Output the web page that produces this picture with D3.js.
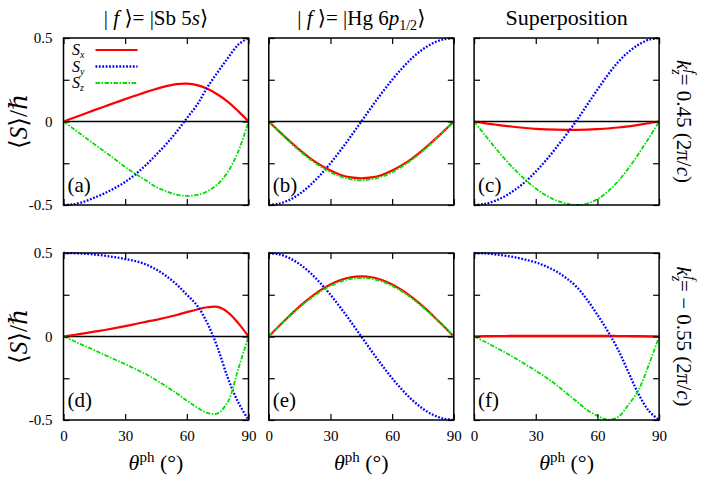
<!DOCTYPE html>
<html>
<head>
<meta charset="utf-8">
<script src="https://cdn.jsdelivr.net/npm/d3@7"></script>
<style>
  body { margin: 0; background: #fff; }
</style>
</head>
<body>
<div id="chart"></div>
<script>
const theta = [0, 5, 10, 15, 20, 25, 30, 35, 40, 45, 50, 55, 60, 65, 70, 75, 80, 85, 90];

// top row, k_z = 0.45
const sxA = [0, 0.022, 0.045, 0.068, 0.09, 0.112, 0.134, 0.155, 0.176, 0.195, 0.212, 0.224, 0.227, 0.218, 0.196, 0.162, 0.118, 0.062, 0];
const syA = [-0.5, -0.495, -0.48, -0.456, -0.43, -0.398, -0.362, -0.316, -0.262, -0.2, -0.135, -0.062, 0.02, 0.1, 0.205, 0.295, 0.38, 0.46, 0.5];
const szA = [0, -0.045, -0.09, -0.136, -0.18, -0.226, -0.272, -0.314, -0.352, -0.392, -0.418, -0.438, -0.445, -0.44, -0.418, -0.375, -0.3, -0.18, 0];

const sxB = [0, -0.059, -0.116, -0.17, -0.219, -0.26, -0.294, -0.32, -0.335, -0.34, -0.335, -0.32, -0.294, -0.26, -0.219, -0.17, -0.116, -0.059, 0];
const syB = [-0.5, -0.492, -0.47, -0.433, -0.383, -0.321, -0.25, -0.171, -0.087, 0, 0.087, 0.171, 0.25, 0.321, 0.383, 0.433, 0.47, 0.492, 0.5];
const szB = [0, -0.061, -0.12, -0.176, -0.226, -0.268, -0.304, -0.33, -0.346, -0.352, -0.346, -0.33, -0.304, -0.268, -0.226, -0.176, -0.12, -0.061, 0];

const sxC = [0, -0.01, -0.018, -0.026, -0.033, -0.039, -0.044, -0.047, -0.049, -0.05, -0.05, -0.049, -0.046, -0.042, -0.036, -0.029, -0.02, -0.01, 0];
const syC = [-0.5, -0.494, -0.476, -0.447, -0.408, -0.36, -0.3, -0.232, -0.156, -0.076, 0.008, 0.1, 0.19, 0.278, 0.355, 0.415, 0.46, 0.49, 0.5];
const szC = [0, -0.077, -0.153, -0.225, -0.291, -0.35, -0.401, -0.443, -0.473, -0.492, -0.5, -0.492, -0.465, -0.42, -0.358, -0.282, -0.194, -0.099, 0];

// bottom row, k_z = -0.55
const sxD = [0, 0.009, 0.019, 0.029, 0.039, 0.05, 0.062, 0.075, 0.088, 0.1, 0.114, 0.129, 0.146, 0.162, 0.175, 0.177, 0.145, 0.08, 0];
const syD = [0.5, 0.499, 0.496, 0.491, 0.484, 0.475, 0.464, 0.452, 0.432, 0.402, 0.362, 0.312, 0.25, 0.186, 0.079, -0.068, -0.25, -0.394, -0.5];
const szD = [0, -0.027, -0.055, -0.082, -0.11, -0.138, -0.166, -0.195, -0.225, -0.26, -0.3, -0.34, -0.384, -0.425, -0.458, -0.46, -0.39, -0.195, 0];

const sxE = [0, 0.063, 0.123, 0.18, 0.231, 0.276, 0.312, 0.338, 0.355, 0.36, 0.355, 0.338, 0.312, 0.276, 0.231, 0.18, 0.123, 0.063, 0];
const syE = [0.5, 0.492, 0.47, 0.433, 0.383, 0.321, 0.25, 0.171, 0.087, 0, -0.087, -0.171, -0.25, -0.321, -0.383, -0.433, -0.47, -0.492, -0.5];
const szE = [0, 0.061, 0.12, 0.175, 0.225, 0.268, 0.303, 0.329, 0.345, 0.35, 0.345, 0.329, 0.303, 0.268, 0.225, 0.175, 0.12, 0.061, 0];

const sxF = [0, 0.002, 0.003, 0.003, 0.004, 0.004, 0.004, 0.004, 0.004, 0.004, 0.004, 0.004, 0.004, 0.004, 0.003, 0.003, 0.002, 0.001, 0];
const syF = [0.5, 0.498, 0.492, 0.484, 0.474, 0.46, 0.444, 0.42, 0.39, 0.348, 0.296, 0.22, 0.13, 0.032, -0.078, -0.212, -0.345, -0.445, -0.5];
const szF = [0, -0.03, -0.062, -0.095, -0.13, -0.167, -0.205, -0.245, -0.29, -0.34, -0.39, -0.44, -0.475, -0.498, -0.482, -0.41, -0.32, -0.17, 0];

const panelLabels = ["(a)", "(b)", "(c)", "(d)", "(e)", "(f)"];
const seriesNames = ["x", "y", "z"];
const xTicks = [0, 30, 60, 90];
const yTicks = [-0.5, -0.25, 0, 0.25, 0.5];
const yLabelled = [-0.5, 0, 0.5];

const panels = [
  [sxA, syA, szA], [sxB, syB, szB], [sxC, syC, szC],
  [sxD, syD, szD], [sxE, syE, szE], [sxF, syF, szF]
];

const width = 706, height = 482;
const pw = 185, ph = 167;
const colX = c => 63.5 + c * 205.3;
const rowY = r => 38 + r * 215;
const FONT = "'Liberation Serif', 'DejaVu Serif', serif";

const styles = [
  { color: "#ff0000", w: 2.2, dash: null },
  { color: "#0000ff", w: 2.3, dash: "1.8 1.6" },
  { color: "#00e000", w: 1.8, dash: "4.5 1.5 1.5 1.5" }
];

const svg = d3.select("#chart").append("svg")
  .attr("width", width)
  .attr("height", height);

const x = d3.scaleLinear().domain([0, 90]).range([0, pw]);
const y = d3.scaleLinear().domain([-0.5, 0.5]).range([ph, 0]);

const line = d3.line()
  .x((d, i) => x(theta[i]))
  .y(d => y(d))
  .curve(d3.curveCatmullRom.alpha(0.5));

function rich(sel, parts) {
  sel.style("font-family", FONT).attr("fill", "#000");
  parts.forEach(p => {
    const t = sel.append("tspan").text(p.t);
    if (p.i) t.attr("font-style", "italic");
    if (p.size) t.attr("font-size", p.size);
    if (p.dx) t.attr("dx", p.dx);
    if (p.dy) t.attr("dy", p.dy);
  });
}

panels.forEach((series, k) => {
  const col = k % 3, row = Math.floor(k / 3);
  const g = svg.append("g").attr("transform", `translate(${colX(col)},${rowY(row)})`);

  // zero line
  g.append("line")
    .attr("x1", 0).attr("x2", pw)
    .attr("y1", y(0)).attr("y2", y(0))
    .attr("stroke", "#000").attr("stroke-width", 1.5);

  series.forEach((vals, s) => {
    g.append("path")
      .datum(vals)
      .attr("d", line)
      .attr("fill", "none")
      .attr("stroke", styles[s].color)
      .attr("stroke-width", styles[s].w)
      .attr("stroke-dasharray", styles[s].dash);
  });

  // axes with inward ticks
  g.append("g").attr("transform", `translate(0,${ph})`)
    .call(d3.axisBottom(x).tickValues(xTicks).tickSizeInner(-6).tickSizeOuter(0).tickPadding(10)
      .tickFormat(row === 1 ? d3.format("d") : ""));
  g.append("g")
    .call(d3.axisTop(x).tickValues(xTicks).tickSizeInner(-6).tickSizeOuter(0).tickFormat(""));
  g.append("g")
    .call(d3.axisLeft(y).tickValues(yTicks).tickSizeInner(-6).tickSizeOuter(0).tickPadding(11)
      .tickFormat(d => (col === 0 && yLabelled.includes(d)) ? String(d) : ""));
  g.append("g").attr("transform", `translate(${pw},0)`)
    .call(d3.axisRight(y).tickValues(yTicks).tickSizeInner(-6).tickSizeOuter(0).tickFormat(""));

  g.selectAll(".domain").remove();
  g.selectAll(".tick line").attr("stroke", "#000").attr("stroke-width", 1.2);
  g.selectAll(".tick text")
    .style("font-family", FONT)
    .attr("font-size", 15)
    .attr("fill", "#000");

  g.append("rect")
    .attr("width", pw).attr("height", ph)
    .attr("fill", "none")
    .attr("stroke", "#000").attr("stroke-width", 1.5);

  g.append("text")
    .attr("x", 4).attr("y", ph - 13)
    .attr("font-size", 21)
    .style("font-family", FONT)
    .text(panelLabels[k]);

  if (k === 0) {
    seriesNames.forEach((n, s) => {
      const ly = 12 + s * 16.5;
      const t = g.append("text").attr("x", 8.5).attr("y", ly + 5).attr("font-size", 16);
      rich(t, [{ t: "S", i: 1 }, { t: n, i: 1, size: 10, dy: 3 }]);
      g.append("line")
        .attr("x1", 32).attr("x2", 74)
        .attr("y1", ly).attr("y2", ly)
        .attr("stroke", styles[s].color)
        .attr("stroke-width", styles[s].w)
        .attr("stroke-dasharray", styles[s].dash);
    });
  }
});

// column titles
const cx = c => colX(c) + pw / 2;
rich(svg.append("text").attr("x", cx(0)).attr("y", 25).attr("font-size", 21).attr("text-anchor", "middle"),
  [{ t: "| " }, { t: "f", i: 1 }, { t: " \u27e9= |Sb 5" }, { t: "s", i: 1 }, { t: "\u27e9" }]);
rich(svg.append("text").attr("x", cx(1)).attr("y", 25).attr("font-size", 21).attr("text-anchor", "middle"),
  [{ t: "| " }, { t: "f", i: 1 }, { t: " \u27e9= |Hg 6" }, { t: "p", i: 1 }, { t: "1/2", size: 14, dy: 5 }, { t: "\u27e9", dy: -5 }]);
rich(svg.append("text").attr("x", cx(2)).attr("y", 25).attr("font-size", 22).attr("text-anchor", "middle"),
  [{ t: "Superposition" }]);

// y-axis labels
[0, 1].forEach(r => {
  const t = svg.append("text")
    .attr("transform", `translate(27,${rowY(r) + ph / 2}) rotate(-90)`)
    .attr("font-size", 25).attr("text-anchor", "middle");
  rich(t, [{ t: "\u27e8" }, { t: "S", i: 1 }, { t: "\u27e9/" }, { t: "\u210f", i: 1 }]);
});

// x-axis labels
[0, 1, 2].forEach(c => {
  const t = svg.append("text").attr("x", cx(c)).attr("y", 470)
    .attr("font-size", 22).attr("text-anchor", "middle");
  rich(t, [{ t: "\u03b8", i: 1 }, { t: "ph", size: 15, dy: -8 }, { t: " (\u00b0)", dy: 8 }]);
});

// k_z labels on the right
const kzText = ["= 0.45 (2\u03c0/", "= \u2212 0.55 (2\u03c0/"];
kzText.forEach((s, r) => {
  const t = svg.append("text")
    .attr("transform", `translate(677,${rowY(r) + ph / 2}) rotate(90)`)
    .attr("font-size", 21).attr("text-anchor", "middle");
  rich(t, [{ t: "k", i: 1 }, { t: "z", i: 1, size: 14, dy: 5 }, { t: "f", i: 1, size: 14, dx: -5, dy: -14 },
    { t: s, dy: 9 }, { t: "c", i: 1 }, { t: ")" }]);
});
</script>
</body>
</html>
